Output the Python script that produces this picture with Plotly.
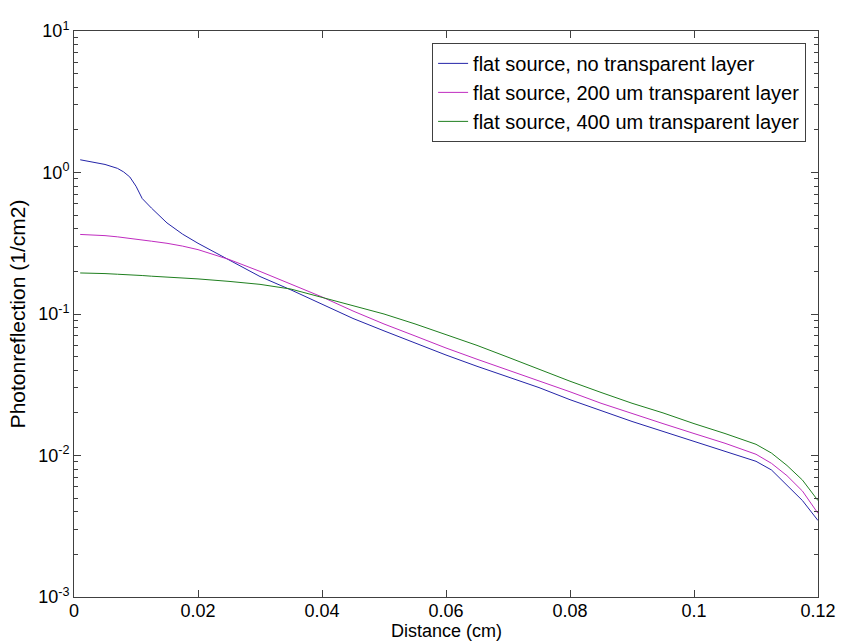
import plotly.graph_objects as go

distance = [0.001, 0.003, 0.005, 0.007, 0.008, 0.009, 0.010, 0.011, 0.0125, 0.015, 0.0175,
            0.02, 0.025, 0.03, 0.035, 0.04, 0.045, 0.05, 0.055, 0.06, 0.065,
            0.07, 0.075, 0.08, 0.085, 0.09, 0.095, 0.1, 0.105, 0.11, 0.1125,
            0.115, 0.1175, 0.12]

no_layer = [1.23, 1.18, 1.14, 1.07, 1.01, 0.93, 0.80, 0.655, 0.56, 0.44, 0.367,
            0.316, 0.24, 0.184, 0.148, 0.117, 0.093, 0.076, 0.0624, 0.0513, 0.0427,
            0.0359, 0.0302, 0.0248, 0.0207, 0.0174, 0.0148, 0.0126, 0.0107, 0.0091, 0.0079,
            0.0062, 0.0048, 0.00347]

layer_200 = [0.365, 0.363, 0.358, 0.351, 0.347, 0.343, 0.339, 0.334, 0.327, 0.316, 0.302,
             0.285, 0.243, 0.20, 0.162, 0.132, 0.105, 0.085, 0.070, 0.0575, 0.0479,
             0.0403, 0.0339, 0.0282, 0.0234, 0.0197, 0.0168, 0.0143, 0.0122, 0.0102, 0.0088,
             0.0072, 0.0056, 0.0039]

layer_400 = [0.195, 0.195, 0.193, 0.191, 0.1905, 0.190, 0.188, 0.187, 0.185, 0.183, 0.180,
             0.177, 0.170, 0.162, 0.150, 0.131, 0.115, 0.100, 0.0851, 0.0716, 0.0600,
             0.0495, 0.0407, 0.0335, 0.0279, 0.0234, 0.0200, 0.0168, 0.0143, 0.0120, 0.0104,
             0.0085, 0.0067, 0.0048]

series_names = ["flat source, no transparent layer",
                "flat source, 200 um transparent layer",
                "flat source, 400 um transparent layer"]
series_colors = ["#2424a8", "#c02cc0", "#1f7f1f"]

x_ticks = [0, 0.02, 0.04, 0.06, 0.08, 0.1, 0.12]
x_tick_text = ["0", "0.02", "0.04", "0.06", "0.08", "0.1", "0.12"]
y_ticks = [1e-3, 1e-2, 1e-1, 1e0, 1e1]
y_tick_text = ["10<sup>-3</sup>", "10<sup>-2</sup>", "10<sup>-1</sup>", "10<sup>0</sup>", "10<sup>1</sup>"]

fig = go.Figure()
for ys, name, color in zip([no_layer, layer_200, layer_400], series_names, series_colors):
    fig.add_trace(go.Scatter(x=distance, y=ys, mode="lines", name=name,
                             line=dict(color=color, width=1)))

font_family = "Liberation Sans, Arial, sans-serif"
fig.update_layout(
    width=841, height=643,
    margin=dict(l=74, r=23, t=31, b=46, autoexpand=False),
    paper_bgcolor="white", plot_bgcolor="white",
    font=dict(family=font_family, size=18, color="black"),
    showlegend=True,
    legend=dict(x=0.984, y=0.979, xanchor="right", yanchor="top",
                bgcolor="white", bordercolor="#404040", borderwidth=1,
                font=dict(size=20), itemwidth=30, tracegroupgap=0),
    xaxis=dict(range=[0, 0.12], tickvals=x_ticks, ticktext=x_tick_text,
               showgrid=False, zeroline=False, showline=True, linecolor="#404040",
               linewidth=1, mirror="ticks", ticks="inside", ticklen=7,
               tickcolor="#404040", automargin=False, ticklabelstandoff=-3),
    yaxis=dict(type="log", range=[-3, 1], tickvals=y_ticks, ticktext=y_tick_text,
               showgrid=False, zeroline=False, showline=True, linecolor="#404040",
               linewidth=1, mirror="ticks", ticks="inside", ticklen=7,
               tickcolor="#404040", automargin=False,
               minor=dict(ticks="inside", ticklen=4, tickcolor="#404040",
                          dtick="D1", showgrid=False),
               title=dict(text="Photonreflection (1/cm2)", standoff=6, font=dict(size=21))),
    annotations=[dict(text="Distance (cm)", xref="paper", yref="paper",
                      x=0.5, y=-0.0813, xanchor="center", yanchor="bottom",
                      showarrow=False, font=dict(size=18))],
)

fig.write_html("out.html", config={"displayModeBar": False},
               post_script="document.body.style.margin='0';document.body.style.overflow='hidden';")
